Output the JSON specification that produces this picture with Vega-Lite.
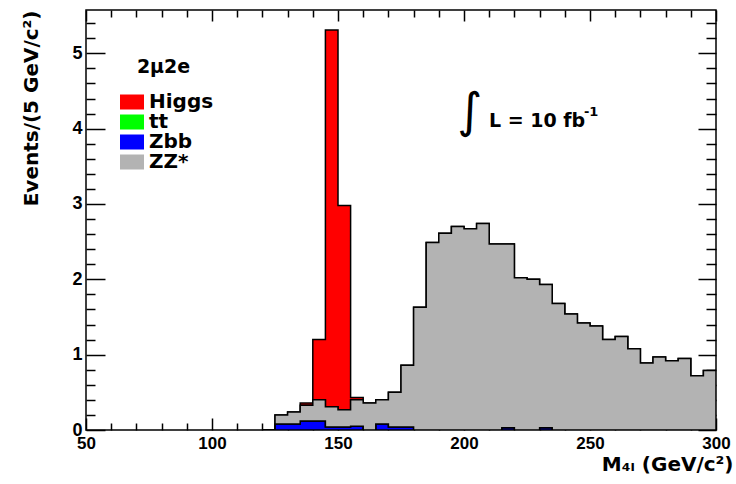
{
  "$schema": "https://vega.github.io/schema/vega-lite/v6.json",
  "width": 630,
  "height": 420,
  "autosize": {"type": "none"},
  "padding": {"left": 86, "top": 10, "right": 20, "bottom": 54},
  "background": "white",
  "config": {
    "view": {"stroke": "black", "strokeWidth": 1.5},
    "font": "Liberation Sans",
    "axis": {"domain": false, "grid": false, "tickColor": "black", "tickWidth": 1.5, "labelColor": "black", "labelFont": "Liberation Sans", "labelFontWeight": "bold", "titleColor": "black", "titleFont": "DejaVu Sans", "titleFontWeight": "bold"}
  },
  "data": {
    "values": [
      {"m": 120, "Higgs": 0, "tt": 0, "Zbb": 0, "ZZ*": 0},
      {"m": 125, "Higgs": 0, "tt": 0, "Zbb": 0.08, "ZZ*": 0.12},
      {"m": 130, "Higgs": 0, "tt": 0, "Zbb": 0.08, "ZZ*": 0.16},
      {"m": 135, "Higgs": 0.03, "tt": 0, "Zbb": 0.12, "ZZ*": 0.21},
      {"m": 140, "Higgs": 0.8, "tt": 0, "Zbb": 0.12, "ZZ*": 0.28},
      {"m": 145, "Higgs": 5.0, "tt": 0, "Zbb": 0.04, "ZZ*": 0.27},
      {"m": 150, "Higgs": 2.71, "tt": 0, "Zbb": 0.04, "ZZ*": 0.23},
      {"m": 155, "Higgs": 0.03, "tt": 0, "Zbb": 0.05, "ZZ*": 0.35},
      {"m": 160, "Higgs": 0, "tt": 0, "Zbb": 0, "ZZ*": 0.36},
      {"m": 165, "Higgs": 0, "tt": 0, "Zbb": 0.08, "ZZ*": 0.32},
      {"m": 170, "Higgs": 0, "tt": 0, "Zbb": 0.04, "ZZ*": 0.46},
      {"m": 175, "Higgs": 0, "tt": 0, "Zbb": 0.04, "ZZ*": 0.82},
      {"m": 180, "Higgs": 0, "tt": 0, "Zbb": 0, "ZZ*": 1.63},
      {"m": 185, "Higgs": 0, "tt": 0, "Zbb": 0, "ZZ*": 2.49},
      {"m": 190, "Higgs": 0, "tt": 0, "Zbb": 0, "ZZ*": 2.61},
      {"m": 195, "Higgs": 0, "tt": 0, "Zbb": 0, "ZZ*": 2.7},
      {"m": 200, "Higgs": 0, "tt": 0, "Zbb": 0, "ZZ*": 2.67},
      {"m": 205, "Higgs": 0, "tt": 0, "Zbb": 0, "ZZ*": 2.74},
      {"m": 210, "Higgs": 0, "tt": 0, "Zbb": 0, "ZZ*": 2.47},
      {"m": 215, "Higgs": 0, "tt": 0, "Zbb": 0.03, "ZZ*": 2.44},
      {"m": 220, "Higgs": 0, "tt": 0, "Zbb": 0, "ZZ*": 2.02},
      {"m": 225, "Higgs": 0, "tt": 0, "Zbb": 0, "ZZ*": 2.0},
      {"m": 230, "Higgs": 0, "tt": 0, "Zbb": 0.03, "ZZ*": 1.9},
      {"m": 235, "Higgs": 0, "tt": 0, "Zbb": 0, "ZZ*": 1.68},
      {"m": 240, "Higgs": 0, "tt": 0, "Zbb": 0, "ZZ*": 1.54},
      {"m": 245, "Higgs": 0, "tt": 0, "Zbb": 0, "ZZ*": 1.42},
      {"m": 250, "Higgs": 0, "tt": 0, "Zbb": 0, "ZZ*": 1.38},
      {"m": 255, "Higgs": 0, "tt": 0, "Zbb": 0, "ZZ*": 1.2},
      {"m": 260, "Higgs": 0, "tt": 0, "Zbb": 0, "ZZ*": 1.24},
      {"m": 265, "Higgs": 0, "tt": 0, "Zbb": 0, "ZZ*": 1.08},
      {"m": 270, "Higgs": 0, "tt": 0, "Zbb": 0, "ZZ*": 0.89},
      {"m": 275, "Higgs": 0, "tt": 0, "Zbb": 0, "ZZ*": 0.97},
      {"m": 280, "Higgs": 0, "tt": 0, "Zbb": 0, "ZZ*": 0.92},
      {"m": 285, "Higgs": 0, "tt": 0, "Zbb": 0, "ZZ*": 0.95},
      {"m": 290, "Higgs": 0, "tt": 0, "Zbb": 0, "ZZ*": 0.72},
      {"m": 295, "Higgs": 0, "tt": 0, "Zbb": 0, "ZZ*": 0.79},
      {"m": 300, "Higgs": 0, "tt": 0, "Zbb": 0, "ZZ*": 0.79}
    ]
  },
  "layer": [
    {
      "transform": [{"fold": ["Higgs", "tt", "Zbb", "ZZ*"], "as": ["process", "events"]}],
      "mark": {"type": "area", "interpolate": "step-after", "stroke": "black", "strokeWidth": 1.5, "opacity": 1, "clip": true},
      "encoding": {
        "x": {
          "field": "m", "type": "quantitative",
          "scale": {"domain": [50, 300], "nice": false, "zero": false},
          "axis": {
            "orient": "bottom",
            "values": [50, 60, 70, 80, 90, 100, 110, 120, 130, 140, 150, 160, 170, 180, 190, 200, 210, 220, 230, 240, 250, 260, 270, 280, 290, 300],
            "labelExpr": "datum.value % 50 === 0 ? datum.label : ''",
            "tickSize": {"condition": {"test": "datum.value % 50 === 0", "value": -12}, "value": -7},
            "labelPadding": 17,
            "labelFontSize": 17,
            "labelFlush": false,
            "labelOverlap": false,
            "title": "M₄ₗ (GeV/c²)",
            "titleFontSize": 20,
            "titleAlign": "right",
            "titleBaseline": "alphabetic",
            "titleX": 647,
            "titleY": 40
          }
        },
        "y": {
          "field": "events", "type": "quantitative", "stack": "zero",
          "scale": {"domain": [0, 5.575], "nice": false},
          "axis": {
            "orient": "left",
            "values": [0, 0.2, 0.4, 0.6, 0.8, 1, 1.2, 1.4, 1.6, 1.8, 2, 2.2, 2.4, 2.6, 2.8, 3, 3.2, 3.4, 3.6, 3.8, 4, 4.2, 4.4, 4.6, 4.8, 5, 5.2, 5.4],
            "labelExpr": "datum.value % 1 === 0 ? '' + datum.value : ''",
            "tickSize": {"condition": {"test": "datum.value % 1 === 0", "value": -19}, "value": -9},
            "labelPadding": 23,
            "labelFontSize": 18,
            "labelFlush": false,
            "labelOverlap": false,
            "title": "Events/(5 GeV/c²)",
            "titleFontSize": 20,
            "titleAngle": -90,
            "titleAlign": "right",
            "titleBaseline": "alphabetic",
            "titleX": -49,
            "titleY": 0
          }
        },
        "color": {
          "field": "process", "type": "nominal",
          "scale": {"domain": ["Higgs", "tt", "Zbb", "ZZ*"], "range": ["#ff0000", "#00ff00", "#0000ff", "#b3b3b3"]},
          "legend": {
            "orient": "none", "legendX": 36, "legendY": 82, "padding": 0,
            "title": null,
            "symbolType": "M-1.5,-0.9375L1.5,-0.9375L1.5,0.9375L-1.5,0.9375Z",
            "symbolSize": 256,
            "symbolStrokeWidth": 0,
            "symbolOpacity": 1,
            "labelFont": "DejaVu Sans", "labelFontWeight": "bold", "labelFontSize": 20, "labelColor": "black",
            "labelOffset": 7,
            "rowPadding": 0
          }
        },
        "order": {"field": "process", "sort": "descending"}
      }
    },
    {
      "data": {"values": [{"m": 202.4, "v": 4.21, "t": "∫"}]},
      "mark": {"type": "text", "font": "DejaVu Sans", "fontSize": 48, "align": "center", "baseline": "middle", "color": "black"},
      "encoding": {
        "x": {"field": "m", "type": "quantitative",
          "axis": {"orient": "top", "labels": false, "title": null,
            "values": [50, 60, 70, 80, 90, 100, 110, 120, 130, 140, 150, 160, 170, 180, 190, 200, 210, 220, 230, 240, 250, 260, 270, 280, 290, 300],
            "tickSize": {"condition": {"test": "datum.value % 50 === 0", "value": -11}, "value": -7}}},
        "y": {"field": "v", "type": "quantitative",
          "axis": {"orient": "right", "labels": false, "title": null,
            "values": [0, 0.2, 0.4, 0.6, 0.8, 1, 1.2, 1.4, 1.6, 1.8, 2, 2.2, 2.4, 2.6, 2.8, 3, 3.2, 3.4, 3.6, 3.8, 4, 4.2, 4.4, 4.6, 4.8, 5, 5.2, 5.4],
            "tickSize": {"condition": {"test": "datum.value % 1 === 0", "value": -18}, "value": -10}}},
        "text": {"field": "t"}
      }
    },
    {
      "data": {"values": [{"m": 209.9, "v": 4.023, "t": "L = 10 fb"}, {"m": 70.2, "v": 4.739, "t": "2μ2e"}]},
      "mark": {"type": "text", "font": "DejaVu Sans", "fontWeight": "bold", "fontSize": 19, "align": "left", "baseline": "alphabetic", "color": "black"},
      "encoding": {
        "x": {"field": "m", "type": "quantitative", "axis": null},
        "y": {"field": "v", "type": "quantitative", "axis": null},
        "text": {"field": "t"}
      }
    },
    {
      "data": {"values": [{"m": 247.6, "v": 4.17, "t": "-1"}]},
      "mark": {"type": "text", "font": "DejaVu Sans", "fontWeight": "bold", "fontSize": 13, "align": "left", "baseline": "alphabetic", "color": "black"},
      "encoding": {
        "x": {"field": "m", "type": "quantitative", "axis": null},
        "y": {"field": "v", "type": "quantitative", "axis": null},
        "text": {"field": "t"}
      }
    }
  ],
  "resolve": {"axis": {"x": "independent", "y": "independent"}}
}
